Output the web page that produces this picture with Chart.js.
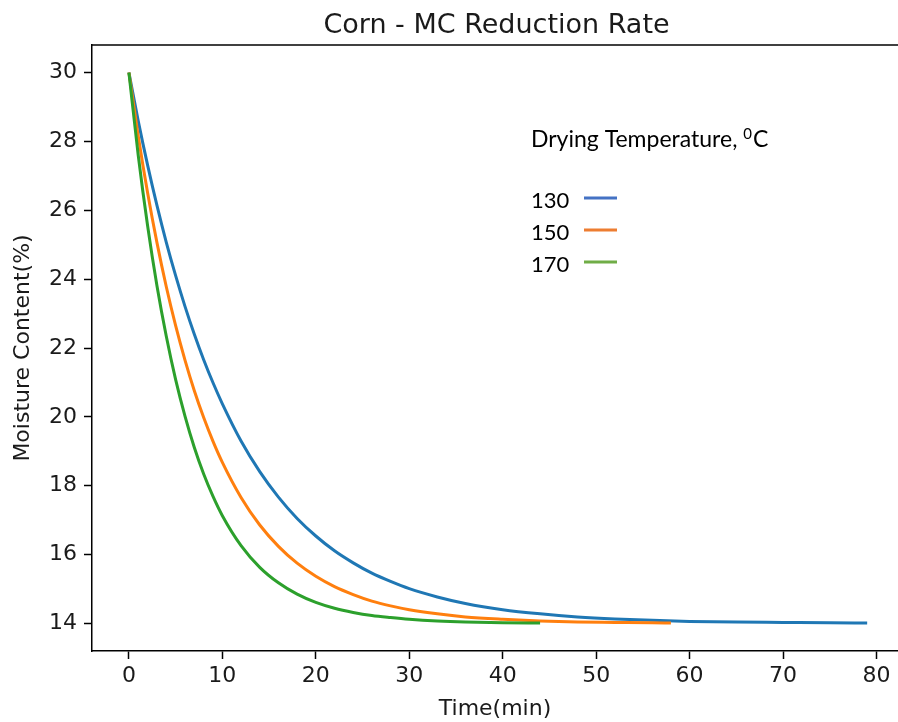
<!DOCTYPE html>
<html>
<head>
<meta charset="utf-8">
<title>Corn - MC Reduction Rate</title>
<script src="https://cdn.jsdelivr.net/npm/chart.js@4.4.1/dist/chart.umd.min.js"></script>
<style>
    html, body { margin: 0; padding: 0; background: #fff; overflow: hidden; }
    #wrap { width: 898px; height: 722px; position: relative; }
</style>
</head>
<body>
<div id="wrap"><canvas id="chart"></canvas></div>
<script>
// --- Data ---
const chartTitle = 'Corn - MC Reduction Rate';
const xTitle = 'Time(min)';
const yTitle = 'Moisture Content(%)';

const xTicks = [0, 10, 20, 30, 40, 50, 60, 70, 80];
const yTicks = [14, 16, 18, 20, 22, 24, 26, 28, 30];

const seriesNames = ['130', '150', '170'];
const lineColors = ['#1f77b4', '#ff7f0e', '#2ca02c'];
const legendColors = ['#4472C4', '#ED7D31', '#70AD47'];

const time130 = [0, 1, 2, 3, 4, 5, 6, 7, 8, 9, 10, 12, 14, 16, 18, 20, 22, 24, 26, 28, 30, 33, 36, 40, 44, 48, 52, 56, 60, 65, 70, 75, 79];
const mc130 = [30, 28.59, 27.31, 26.14, 25.07, 24.10, 23.21, 22.40, 21.66, 20.99, 20.38, 19.30, 18.41, 17.67, 17.05, 16.54, 16.11, 15.76, 15.46, 15.22, 15.01, 14.77, 14.58, 14.40, 14.28, 14.19, 14.13, 14.09, 14.06, 14.04, 14.03, 14.02, 14.01];

const time150 = [0, 1, 2, 3, 4, 5, 6, 7, 8, 9, 10, 12, 14, 16, 18, 20, 22, 24, 26, 28, 30, 33, 36, 40, 44, 48, 52, 56, 58];
const mc150 = [30, 28.15, 26.51, 25.06, 23.78, 22.65, 21.65, 20.76, 19.98, 19.29, 18.68, 17.66, 16.86, 16.24, 15.75, 15.37, 15.07, 14.84, 14.65, 14.51, 14.40, 14.28, 14.19, 14.12, 14.07, 14.04, 14.03, 14.02, 14.01];

const time170 = [0, 1, 2, 3, 4, 5, 6, 7, 8, 9, 10, 12, 14, 16, 18, 20, 22, 24, 26, 28, 30, 33, 36, 40, 44];
const mc170 = [30, 27.59, 25.55, 23.81, 22.34, 21.08, 20.02, 19.11, 18.34, 17.69, 17.13, 16.26, 15.63, 15.18, 14.85, 14.61, 14.44, 14.32, 14.23, 14.17, 14.12, 14.07, 14.04, 14.02, 14.01];

const times = [time130, time150, time170];
const values = [mc130, mc150, mc170];

const TEXT = '#1a1a1a';
const FONT = '"DejaVu Sans", sans-serif';
const LEGEND_FONT = 'Lato, "Open Sans", sans-serif';

function toPoints(xs, ys) {
    return xs.map((x, i) => ({ x: x, y: ys[i] }));
}

// title, top spine and the hand-made legend
const decorPlugin = {
    id: 'decor',
    afterDraw(chart) {
        const ctx = chart.ctx;
        const a = chart.chartArea;
        ctx.save();

        ctx.strokeStyle = '#000';
        ctx.lineWidth = 1.5;
        ctx.beginPath();
        ctx.moveTo(a.left, a.top);
        ctx.lineTo(a.right, a.top);
        ctx.stroke();

        ctx.fillStyle = TEXT;
        ctx.font = '27px ' + FONT;
        ctx.textAlign = 'center';
        ctx.textBaseline = 'alphabetic';
        ctx.fillText(chartTitle, (a.left + a.right + 3) / 2, 33);

        // legend (office style text box)
        ctx.textAlign = 'left';
        ctx.fillStyle = '#000';
        ctx.font = '23px ' + LEGEND_FONT;
        const head = 'Drying Temperature, ';
        ctx.fillText(head, 531, 147);
        let w = ctx.measureText(head).width;
        ctx.font = '15px ' + LEGEND_FONT;
        ctx.fillText('0', 531 + w, 139);
        w += ctx.measureText('0').width + 1;
        ctx.font = '23px ' + LEGEND_FONT;
        ctx.fillText('C', 531 + w, 147);

        ctx.font = '22px ' + LEGEND_FONT;
        seriesNames.forEach((name, i) => {
            const base = 208 + i * 32;
            ctx.fillStyle = '#000';
            ctx.fillText(name, 531, base);
            ctx.strokeStyle = legendColors[i];
            ctx.lineWidth = 3;
            ctx.beginPath();
            ctx.moveTo(584, base - 10);
            ctx.lineTo(617, base - 10);
            ctx.stroke();
        });

        ctx.restore();
    }
};

const datasets = seriesNames.map((name, i) => ({
    label: name,
    data: toPoints(times[i], values[i]),
    borderColor: lineColors[i],
    backgroundColor: lineColors[i],
    borderWidth: 3,
    pointRadius: 0,
    fill: false,
    cubicInterpolationMode: 'monotone',
    order: 3 - i
}));

new Chart(document.getElementById('chart').getContext('2d'), {
    type: 'line',
    data: { datasets: datasets },
    options: {
        responsive: true,
        maintainAspectRatio: false,
        animation: false,
        layout: { padding: { top: 45, left: 0, right: 0, bottom: 0 } },
        plugins: {
            legend: { display: false },
            tooltip: { enabled: false },
            title: { display: false }
        },
        scales: {
            x: {
                type: 'linear',
                min: -3.95,
                max: 82.3,
                afterBuildTicks: s => { s.ticks = xTicks.map(v => ({ value: v })); },
                afterFit: s => { s.height = 71; },
                grid: { drawOnChartArea: false, drawTicks: true, tickLength: 8, tickWidth: 1.5, tickColor: '#000' },
                border: { display: true, color: '#000', width: 1.5 },
                ticks: { color: TEXT, font: { family: FONT, size: 22 }, padding: 4, maxRotation: 0 },
                title: { display: true, text: xTitle, color: TEXT, font: { family: FONT, size: 22 }, padding: { top: 0, bottom: 0 } }
            },
            y: {
                type: 'linear',
                min: 13.2,
                max: 30.8,
                afterBuildTicks: s => { s.ticks = yTicks.map(v => ({ value: v })); },
                afterFit: s => { s.width = 92; },
                grid: { drawOnChartArea: false, drawTicks: true, tickLength: 8, tickWidth: 1.5, tickColor: '#000' },
                border: { display: true, color: '#000', width: 1.5 },
                ticks: { color: TEXT, font: { family: FONT, size: 22 }, padding: 7 },
                title: { display: true, text: yTitle, color: TEXT, font: { family: FONT, size: 22 }, padding: { top: 10, bottom: 0 } }
            }
        }
    },
    plugins: [decorPlugin]
});
</script>
</body>
</html>
